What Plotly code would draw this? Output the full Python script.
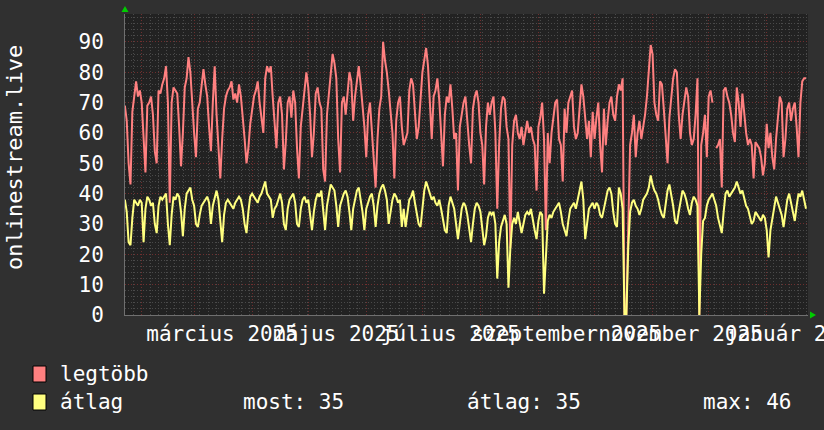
import pandas as pd
import plotly.graph_objects as go

# ---------------- data ----------------
start_date = "2025-01-23"

legtobb = [
    69, 64, 50, 43, 67, 72, 77, 72, 74, 70,
    60, 47, 69, 70, 72, 66, 54, 50, 74, 73,
    76, 78, 82, 70, 37, 70, 75, 74, 73, 62,
    49, 60, 75, 78, 85, 80, 68, 60, 52, 68,
    70, 75, 81, 76, 72, 62, 54, 70, 82, 66,
    55, 45, 58, 68, 72, 74, 75, 77, 71, 73,
    70, 76, 72, 66, 58, 50, 55, 63, 67, 72,
    74, 77, 70, 65, 60, 78, 82, 80, 82, 72,
    62, 55, 70, 72, 66, 48, 57, 70, 72, 65,
    74, 70, 55, 45, 62, 68, 74, 80, 75, 66,
    52, 60, 73, 75, 70, 68, 48, 44, 66, 72,
    80, 86, 83, 78, 58, 47, 70, 72, 66, 74,
    80, 77, 64, 72, 78, 82, 76, 70, 62, 52,
    66, 70, 60, 50, 42, 58, 68, 72, 90, 84,
    80, 74, 68, 60, 45, 64, 70, 72, 62, 56,
    58, 60, 74, 78, 76, 66, 58, 62, 72, 80,
    84, 88, 82, 70, 58, 72, 74, 78, 71, 60,
    49, 66, 72, 70, 76, 68, 58, 60, 41, 62,
    66, 70, 72, 62, 56, 50, 68, 72, 74, 70,
    60, 56, 43, 62, 70, 66, 70, 72, 60, 35,
    56, 68, 72, 71, 62, 58, 22, 56, 64, 66,
    60, 58, 62, 56, 60, 64, 60, 62, 58, 56,
    41, 62, 65, 70, 58, 28, 60, 50, 60, 66,
    70, 71, 58, 56, 44, 68, 60, 70, 72, 74,
    62, 58, 60, 70, 76, 72, 66, 58, 64, 52,
    67, 58, 65, 70, 56, 47, 68, 56, 64, 70,
    72, 66, 64, 72, 76, 74, 78, 0, 0, 30,
    56, 60, 66, 52, 60, 64, 58, 62, 66, 72,
    80, 89, 86, 70, 66, 64, 77, 76, 68, 60,
    50, 65, 72, 78, 81, 80, 66, 58, 66, 70,
    75, 72, 60, 56, 58, 66, 78, 0, 56, 60,
    66, 52, 72, 74, 70, None, 55, 56, 58, 42,
    74, 75, 72, 70, 66, 60, 57, 75, 70, 62,
    73, 66, 60, 56, 58, 56, 45, 57, 56, 55,
    52, 46, 50, 63, 55, 60, 52, 48, 58, 66,
    72, 70, 52, 58, 68, 70, 64, 68, 70, 62,
    52, 70, 77, 78, 78,
]

atlag = [
    38, 34, 24, 23, 32, 38, 37, 36, 38, 37,
    24, 35, 39, 38, 36, 37, 30, 27, 36, 39,
    38, 39, 40, 30, 23, 33, 39, 38, 40, 39,
    34, 26, 35, 40, 41, 42, 38, 36, 30, 29,
    33, 36, 37, 38, 39, 37, 30, 36, 39, 41,
    38, 30, 24, 33, 37, 38, 37, 36, 35, 37,
    38, 39, 38, 35, 30, 27, 34, 39, 40, 39,
    38, 37, 39, 40, 42, 44, 40, 39, 38, 32,
    35, 36, 38, 40, 37, 30, 28, 35, 38, 39,
    40, 37, 30, 29, 35, 38, 39, 37, 38, 33,
    28, 34, 38, 40, 39, 41, 34, 28, 36, 40,
    43, 42, 41, 36, 29, 36, 38, 40, 41, 39,
    34, 28, 35, 38, 41, 42, 38, 34, 28, 35,
    37, 39, 40, 36, 29, 36, 40, 42, 43, 41,
    38, 30, 34, 38, 40, 39, 37, 38, 29, 35,
    29, 33, 38, 39, 41, 37, 33, 30, 29, 36,
    41, 44, 42, 40, 38, 39, 37, 36, 38, 35,
    31, 28, 27, 36, 39, 37, 35, 30, 25, 30,
    35, 37, 36, 33, 28, 24, 30, 35, 37, 36,
    34, 28, 23, 26, 32, 34, 33, 34, 30, 12,
    24, 29, 31, 33, 30, 9, 22, 30, 32, 30,
    34, 31, 27, 30, 33, 34, 33, 35, 31, 28,
    25, 31, 34, 33, 7, 22, 31, 33, 32, 34,
    35, 36, 37, 34, 30, 28, 26, 31, 35, 36,
    37, 35, 38, 41, 44, 38, 25, 30, 35, 36,
    37, 35, 37, 36, 33, 32, 35, 38, 41, 42,
    40, 34, 30, 29, 42, 40, 35, 0, 0, 22,
    34, 37, 38, 36, 35, 33, 35, 38, 39, 40,
    42, 46, 43, 41, 40, 38, 35, 33, 32, 37,
    41, 43, 40, 36, 31, 30, 34, 38, 41, 40,
    38, 35, 33, 37, 39, 38, 36, 0, 20, 31,
    32, 36, 38, 39, 40, 38, 36, 32, 29, 27,
    34, 40, 41, 39, 40, 41, 42, 44, 42, 40,
    41, 38, 36, 35, 32, 30, 31, 34, 33, 32,
    31, 33, 32, 28, 19, 28, 32, 36, 39, 37,
    35, 33, 29, 34, 38, 40, 37, 35, 31, 36,
    40, 39, 41, 38, 35,
]

series_names = ["legtöbb", "átlag"]
series_colors = ["#ff8080", "#ffff80"]
y_tick_values = [0, 10, 20, 30, 40, 50, 60, 70, 80, 90]
x_range = ["2025-01-23 01:40", "2026-01-23 01:40"]
month_starts = ["2025-02-01", "2025-03-01", "2025-04-01", "2025-05-01", "2025-06-01",
                "2025-07-01", "2025-08-01", "2025-09-01", "2025-10-01", "2025-11-01",
                "2025-12-01", "2026-01-01"]
month_labels = ["", "március 2025", "", "május 2025", "", "július 2025", "",
                "szeptember 2025", "", "november 2025", "", "január 2026"]
stat_labels = ["most: 35", "átlag: 35", "max: 46"]
y_title = "onlinestream.live"

# ---------------- figure ----------------
W, H = 824, 430
L, R, T, B = 125, 808, 14, 315
FONT = "DejaVu Sans Mono"
BG = "#303030"
PLOT_BG = "#222222"


def px_x(px):
    return (px - L) / (R - L)


def px_y(py):
    return (B - py) / (B - T)


dates_red = pd.date_range(start_date, periods=len(legtobb), freq="D")
dates_yel = pd.date_range(start_date, periods=len(atlag), freq="D")

fig = go.Figure()
fig.add_trace(go.Scatter(x=dates_red, y=legtobb, mode="lines", name=series_names[0],
                         line=dict(color=series_colors[0], width=2), connectgaps=False))
fig.add_trace(go.Scatter(x=dates_yel, y=atlag, mode="lines", name=series_names[1],
                         line=dict(color=series_colors[1], width=2), connectgaps=False))

major_grid = "#6e2f2f"
minor_grid = "#4a4a4a"

fig.update_layout(
    width=W, height=H,
    margin=dict(l=L, r=W - R, t=T, b=H - B, pad=0),
    paper_bgcolor=BG, plot_bgcolor=PLOT_BG,
    showlegend=False,
    font=dict(family=FONT, color="#ffffff", size=21),
    xaxis=dict(
        type="date", range=x_range,
        tickmode="array", tickvals=month_starts, ticktext=month_labels,
        ticklabelshift=28, tickangle=0, ticks="", ticklen=0,
        ticklabeloverflow="allow",
        showgrid=True, gridcolor=major_grid, griddash="1px,2px", gridwidth=1,
        minor=dict(tickmode="linear", tick0="2025-02-01", dtick=4.44 * 86400000,
                   showgrid=True, gridcolor=minor_grid, griddash="1px,2px", ticks=""),
        showline=True, linecolor="#707070", linewidth=1,
        zeroline=False, fixedrange=True, automargin=False,
        tickfont=dict(family=FONT, size=21, color="#ffffff"),
        ticklabelstandoff=0,
    ),
    yaxis=dict(
        range=[0, 99.2], tickmode="array", tickvals=y_tick_values,
        showgrid=True, gridcolor=major_grid, griddash="1px,2px", gridwidth=1,
        minor=dict(dtick=2, showgrid=True, gridcolor=minor_grid, griddash="1px,2px"),
        showline=True, linecolor="#707070", linewidth=1,
        zeroline=False, ticks="", fixedrange=True, automargin=False,
        tickfont=dict(family=FONT, size=21, color="#ffffff"),
        ticklabelstandoff=16,
    ),
)

# green arrows at axis ends
fig.add_shape(type="path", xref="paper", yref="paper",
              path=f"M {px_x(121.5)} {px_y(12)} L {px_x(128.5)} {px_y(12)} L {px_x(125)} {px_y(6)} Z",
              fillcolor="#00cc00", line=dict(width=0))
fig.add_shape(type="path", xref="paper", yref="paper",
              path=f"M {px_x(810)} {px_y(311.5)} L {px_x(810)} {px_y(318.5)} L {px_x(816)} {px_y(315)} Z",
              fillcolor="#00cc00", line=dict(width=0))

# y-axis title
fig.add_annotation(text=y_title, xref="paper", yref="paper", x=px_x(14), y=px_y(158),
                   showarrow=False, textangle=-90, xanchor="center", yanchor="middle",
                   font=dict(family=FONT, size=22, color="#ffffff"))

# custom legend
rows_y = [374, 402]
for name, color, ry in zip(series_names, series_colors, rows_y):
    fig.add_shape(type="rect", xref="paper", yref="paper",
                  x0=px_x(33), x1=px_x(46), y0=px_y(ry + 8), y1=px_y(ry - 8),
                  fillcolor=color, line=dict(color="#000000", width=1))
    fig.add_annotation(text=name, xref="paper", yref="paper", x=px_x(58), y=px_y(ry),
                       showarrow=False, xanchor="left", yanchor="middle",
                       font=dict(family=FONT, size=21, color="#ffffff"))

for label, sx in zip(stat_labels, [241, 465, 701]):
    fig.add_annotation(text=label, xref="paper", yref="paper", x=px_x(sx), y=px_y(rows_y[1]),
                       showarrow=False, xanchor="left", yanchor="middle",
                       font=dict(family=FONT, size=21, color="#ffffff"))

fig.write_html("out.html", post_script="document.body.style.margin='0';",
               config={"displayModeBar": False})
